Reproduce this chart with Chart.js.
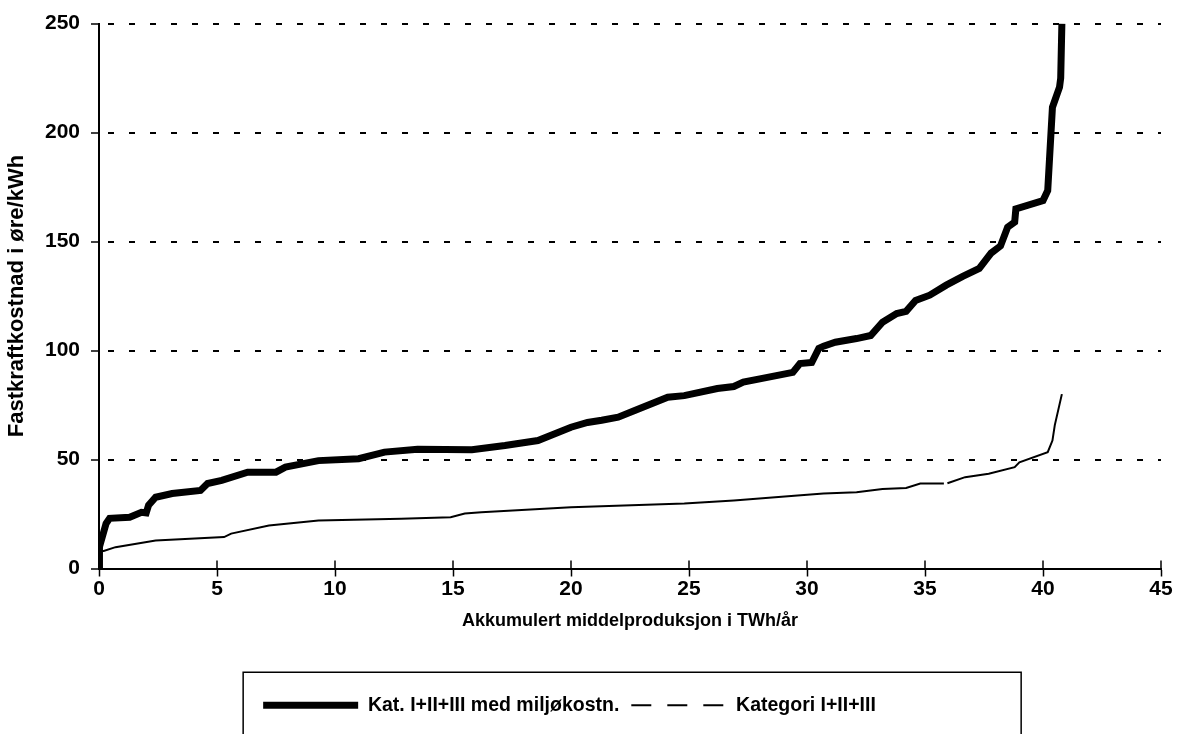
<!DOCTYPE html>
<html>
<head>
<meta charset="utf-8">
<script src="https://cdn.jsdelivr.net/npm/chart.js@4.4.1/dist/chart.umd.min.js"></script>
<style>
    html, body { margin: 0; padding: 0; background: #ffffff; }
    #wrap { width: 1199px; height: 734px; position: relative; }
</style>
</head>
<body>
<div id="wrap"><canvas id="costChart"></canvas></div>
<script>
// Kat. I+II+III med miljøkostn. (thick curve)
const envX = [0, 0.02, 0.3, 0.45, 1.3, 1.8, 2.0, 2.1, 2.4, 3.1, 4.3, 4.6, 5.2, 6.3, 7.5, 7.9, 9.3, 11.0, 12.1, 13.5,
    15.8, 17.2, 18.6, 20.0, 20.7, 21.3, 22.0, 22.7, 24.1, 24.8, 26.2, 26.9, 27.3, 28.0, 28.7, 29.4, 29.7, 30.2, 30.5, 30.7,
    31.2, 32.1, 32.7, 33.2, 33.8, 34.2, 34.6, 35.2, 35.9, 36.6, 37.3, 37.8, 38.2, 38.5, 38.8, 38.85, 40.0, 40.2, 40.4, 40.7,
    40.75, 40.8];
const envY = [0, 10, 20.6, 23, 23.5, 25.8, 25.5, 29, 32.7, 34.4, 35.8, 39, 40.4, 44.2, 44.2, 46.5, 49.5, 50.4, 53.4, 54.7,
    54.5, 56.4, 58.7, 64.8, 67, 68, 69.4, 72.5, 78.6, 79.3, 82.6, 83.5, 85.5, 87, 88.5, 90, 94, 94.5, 101, 102,
    103.8, 105.5, 106.9, 113, 117, 118, 123, 125.4, 130, 134, 137.7, 144.7, 148, 156.6, 158.9, 165, 168.8, 173.4, 211.6, 220.8,
    225, 250];

// Kategori I+II+III (thin curve), null = small break in the line
const baseX = [0, 0.2, 0.7, 2.4, 5.3, 5.6, 7.2, 9.3, 12.8, 14.9, 15.5, 16.2, 20.0, 24.8, 26.9, 29.6, 30.7, 32.1, 33.2, 34.2,
    34.8, 35.8, 35.85, 35.95, 36.7, 37.7, 38.8, 39.0, 40.2, 40.4, 40.5, 40.8];
const baseY = [8, 8, 9.8, 12.8, 14.4, 16, 19.7, 22, 22.8, 23.5, 25.2, 25.8, 28.1, 29.8, 31.2, 33.5, 34.4, 35, 36.5, 36.9,
    39, 39, null, 39.1, 41.9, 43.5, 46.5, 48.7, 53.4, 58.7, 65.8, 80];

const seriesLabels = ['Kat. I+II+III med miljøkostn.', 'Kategori I+II+III'];
const xTitle = 'Akkumulert middelproduksjon i TWh/år';
const yTitle = 'Fastkraftkostnad i øre/kWh';

function toPoints(xs, ys) {
    return xs.map((x, i) => ({ x: x, y: ys[i] }));
}

const tickFont = { family: "'Liberation Sans', Arial, sans-serif", size: 21, weight: 'bold' };
const xTitleFont = { family: "'Liberation Sans', Arial, sans-serif", size: 18, weight: 'bold' };
const yTitleFont = { family: "'Liberation Sans Narrow', 'Liberation Sans', Arial, sans-serif", size: 22, weight: 'bold' };
const legendFont = { family: "'Liberation Sans Narrow', 'Liberation Sans', Arial, sans-serif", size: 19.5, weight: 'bold' };

// tick marks on the x axis go through the axis line, plus the frame round the legend
const extras = {
    id: 'extras',
    afterLayout(chart) {
        // legend sits a little left of the page centre in the original
        chart.legend.right -= 22;
    },
    afterDraw(chart) {
        const ctx = chart.ctx;
        const xs = chart.scales.x;
        const bottom = chart.chartArea.bottom;
        ctx.save();
        ctx.strokeStyle = '#000';
        ctx.lineWidth = 1.5;
        xs.ticks.forEach(t => {
            const px = xs.getPixelForValue(t.value);
            ctx.beginPath();
            ctx.moveTo(px, bottom - 8);
            ctx.lineTo(px, bottom);
            ctx.stroke();
        });
        const boxes = chart.legend.legendHitBoxes;
        if (boxes && boxes.length) {
            const first = boxes[0];
            const left = first.left - 20;
            const top = first.top + first.height / 2 - 33;
            ctx.lineWidth = 1.5;
            ctx.strokeRect(left, top, 778, 100);
        }
        ctx.restore();
    }
};

const ctx = document.getElementById('costChart').getContext('2d');
new Chart(ctx, {
    type: 'line',
    data: {
        datasets: [{
            label: seriesLabels[0],
            data: toPoints(envX, envY),
            borderColor: '#000',
            borderWidth: 7,
            pointRadius: 0,
            tension: 0,
            fill: false
        }, {
            label: seriesLabels[1],
            data: toPoints(baseX, baseY),
            borderColor: '#000',
            borderWidth: 2,
            pointRadius: 0,
            tension: 0,
            spanGaps: false,
            fill: false
        }]
    },
    options: {
        responsive: true,
        maintainAspectRatio: false,
        animation: false,
        layout: { padding: { top: 22, right: 38, bottom: 9, left: 0 } },
        scales: {
            x: {
                type: 'linear',
                min: 0,
                max: 45,
                ticks: { stepSize: 5, color: '#000', font: tickFont, padding: 0, maxRotation: 0 },
                grid: { drawOnChartArea: false, drawTicks: true, tickLength: 8, tickColor: '#000', tickWidth: 1.5 },
                border: { color: '#000', width: 2 },
                title: { display: true, text: xTitle, color: '#000', font: xTitleFont, padding: { top: 4, bottom: 52 } },
                afterFit: s => { s.height = 115; }
            },
            y: {
                min: 0,
                max: 250,
                ticks: { stepSize: 50, color: '#000', font: tickFont, padding: 11 },
                grid: { color: '#000', lineWidth: 2, tickLength: 8, tickColor: '#000', tickWidth: 1.5, tickBorderDash: [] },
                border: { color: '#000', width: 2, dash: [6, 15], dashOffset: -8 },
                title: { display: true, text: yTitle, color: '#000', font: yTitleFont, padding: { top: 4, bottom: 0 } },
                afterFit: s => { s.width = 99; }
            }
        },
        plugins: {
            legend: {
                position: 'bottom',
                labels: {
                    color: '#000',
                    font: legendFont,
                    usePointStyle: true,
                    pointStyleWidth: 95,
                    padding: 12,
                    generateLabels: function () {
                        return [{
                            text: seriesLabels[0], pointStyle: 'line', strokeStyle: '#000', fillStyle: '#000',
                            lineWidth: 7, lineDash: [], datasetIndex: 0
                        }, {
                            text: seriesLabels[1], pointStyle: 'line', strokeStyle: '#000', fillStyle: '#000',
                            lineWidth: 2, lineDash: [20, 16], datasetIndex: 1
                        }];
                    }
                }
            },
            tooltip: { enabled: false }
        }
    },
    plugins: [extras]
});
</script>
</body>
</html>
